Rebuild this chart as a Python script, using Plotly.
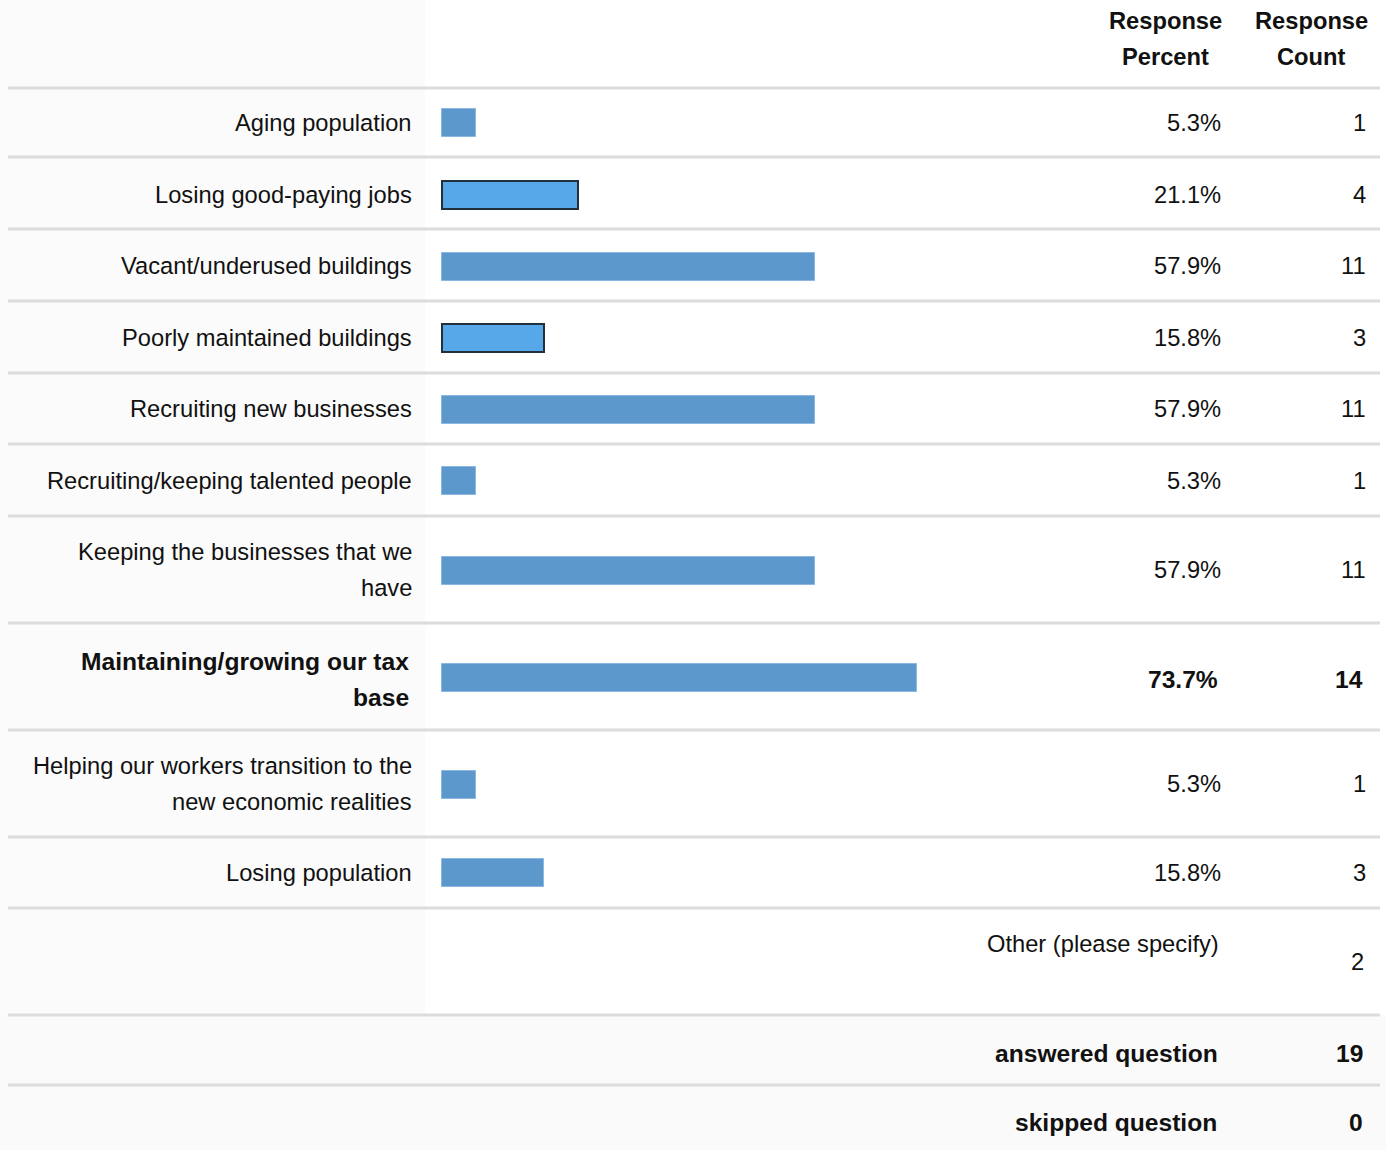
import plotly.graph_objects as go

# ---------------- data ----------------
categories = [
    "Aging population",
    "Losing good-paying jobs",
    "Vacant/underused buildings",
    "Poorly maintained buildings",
    "Recruiting new businesses",
    "Recruiting/keeping talented people",
    "Keeping the businesses that we<br>have",
    "Maintaining/growing our tax<br>base",
    "Helping our workers transition to the<br>new economic realities",
    "Losing population",
]
response_percent = [5.3, 21.1, 57.9, 15.8, 57.9, 5.3, 57.9, 73.7, 5.3, 15.8]
response_count = [1, 4, 11, 3, 11, 1, 11, 14, 1, 3]
header_percent = ["Response", "Percent"]
header_count = ["Response", "Count"]
other_label = "Other (please specify)"
other_count = 2
answered_label = "answered question"
answered_count = 19
skipped_label = "skipped question"
skipped_count = 0

# ---------------- layout constants ----------------
W, H = 1386, 1150
PX_PER_PCT = 6.44
BAR_X0 = 442
row_centers = [123, 195, 266, 338, 409, 481, 570, 679, 784, 873]
bar_centers = [123, 195, 267, 338, 410, 481, 571, 678, 785, 873]
separators = [88, 157, 229, 301, 373, 444, 516, 623, 730, 837, 908, 1015, 1085]
LINE_GAP = 36
LABEL_RIGHT = 414
PCT_RIGHT = 1223
CNT_RIGHT = 1368
FONT = "Liberation Sans, Arial, sans-serif"
TXT = "#111111"
FS = 23.7
FS_BOLD = 24.6
bold_rows = {7}
gradient_rows = {1, 3}

fill_colors = ["#56a8e8" if i in gradient_rows else "#5c98cc" for i in range(len(categories))]
line_colors = ["#22303d" if i in gradient_rows else "#8ab8e0" for i in range(len(categories))]
line_widths = [2 if i in gradient_rows else 1 for i in range(len(categories))]

fig = go.Figure()
fig.add_trace(go.Bar(
    x=response_percent,
    y=bar_centers,
    orientation="h",
    width=28,
    marker=dict(color=fill_colors, line=dict(color=line_colors, width=line_widths)),
    hoverinfo="skip",
    showlegend=False,
))

shapes = []
# subtle background tints
shapes.append(dict(type="rect", xref="paper", yref="y", x0=0, x1=425 / W, y0=0, y1=1015,
                   fillcolor="#fbfbfb", line=dict(width=0), layer="below"))
shapes.append(dict(type="rect", xref="paper", yref="y", x0=0, x1=1, y0=1015, y1=H,
                   fillcolor="#fafafa", line=dict(width=0), layer="below"))
for s in separators:
    shapes.append(dict(type="line", xref="paper", yref="y", x0=8 / W, x1=1380 / W, y0=s, y1=s,
                       line=dict(color="#dcdcdc", width=3), layer="below"))

annotations = []


def txt(x, y, text, bold=False, anchor="right", size=None):
    if size is None:
        size = FS_BOLD if bold else FS
    annotations.append(dict(
        xref="paper", yref="y", x=x / W, y=y, text=("<b>%s</b>" % text) if bold else text,
        showarrow=False, xanchor=anchor, yanchor="middle",
        font=dict(family=FONT, size=size, color=TXT),
    ))


# headers
for j, (a, b) in enumerate(zip(header_percent, header_count)):
    txt(1165, 21 + j * LINE_GAP, a, bold=True, anchor="center", size=23.7)
    txt(1311, 21 + j * LINE_GAP, b, bold=True, anchor="center", size=23.7)

# rows
for i, (cat, pct, cnt) in enumerate(zip(categories, response_percent, response_count)):
    lines = cat.split("<br>")
    n = len(lines)
    yc = row_centers[i]
    b = i in bold_rows
    for k, ln in enumerate(lines):
        txt(LABEL_RIGHT - (3 if b else 0), yc + (k - (n - 1) / 2) * LINE_GAP, ln, bold=b)
    txt(PCT_RIGHT - (3 if b else 0), yc, "%.1f%%" % pct, bold=b)
    txt(CNT_RIGHT - (3 if b else 0), yc, str(cnt), bold=b)

# other / summary rows
txt(1221, 944, other_label)
txt(CNT_RIGHT - 2, 962, str(other_count))
txt(1220, 1053, answered_label, bold=True)
txt(CNT_RIGHT - 3, 1053, str(answered_count), bold=True)
txt(1219, 1122, skipped_label, bold=True)
txt(CNT_RIGHT - 3, 1122, str(skipped_count), bold=True)

fig.update_layout(
    width=W, height=H,
    margin=dict(l=0, r=0, t=0, b=0),
    paper_bgcolor="white", plot_bgcolor="rgba(0,0,0,0)",
    xaxis=dict(range=[-BAR_X0 / PX_PER_PCT, (W - BAR_X0) / PX_PER_PCT], visible=False, fixedrange=True),
    yaxis=dict(range=[H, 0], visible=False, fixedrange=True),
    shapes=shapes,
    annotations=annotations,
    bargap=0,
)

fig.write_html("out.html")
